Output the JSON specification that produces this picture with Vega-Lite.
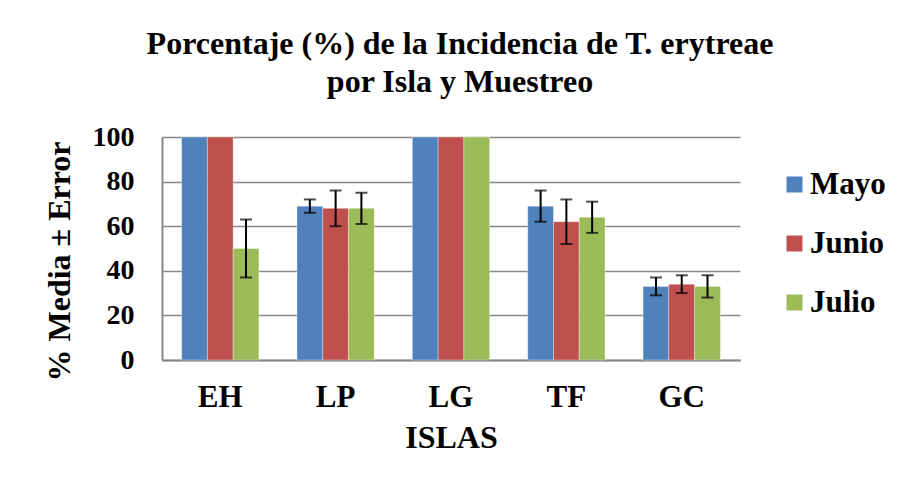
{
  "$schema": "https://vega.github.io/schema/vega-lite/v6.json",
  "width": 578,
  "height": 223,
  "autosize": "none",
  "padding": {"left": 162, "top": 137, "right": 161, "bottom": 130},
  "background": "white",
  "title": {
    "text": ["Porcentaje (%) de la Incidencia de T. erytreae", "por Isla y Muestreo"],
    "font": "Liberation Serif",
    "fontSize": 32,
    "fontWeight": "bold",
    "color": "black",
    "anchor": "middle",
    "dx": 9,
    "offset": 24,
    "lineHeight": 38
  },
  "data": {
    "values": [
      {"isla": "EH", "mes": "Mayo", "valor": 100, "lo": null, "hi": null},
      {"isla": "EH", "mes": "Junio", "valor": 100, "lo": null, "hi": null},
      {"isla": "EH", "mes": "Julio", "valor": 50, "lo": 37, "hi": 63},
      {"isla": "LP", "mes": "Mayo", "valor": 69, "lo": 66, "hi": 72},
      {"isla": "LP", "mes": "Junio", "valor": 68, "lo": 60, "hi": 76},
      {"isla": "LP", "mes": "Julio", "valor": 68, "lo": 61, "hi": 75},
      {"isla": "LG", "mes": "Mayo", "valor": 100, "lo": null, "hi": null},
      {"isla": "LG", "mes": "Junio", "valor": 100, "lo": null, "hi": null},
      {"isla": "LG", "mes": "Julio", "valor": 100, "lo": null, "hi": null},
      {"isla": "TF", "mes": "Mayo", "valor": 69, "lo": 62, "hi": 76},
      {"isla": "TF", "mes": "Junio", "valor": 62, "lo": 52, "hi": 72},
      {"isla": "TF", "mes": "Julio", "valor": 64, "lo": 57, "hi": 71},
      {"isla": "GC", "mes": "Mayo", "valor": 33, "lo": 29, "hi": 37},
      {"isla": "GC", "mes": "Junio", "valor": 34, "lo": 30, "hi": 38},
      {"isla": "GC", "mes": "Julio", "valor": 33, "lo": 28, "hi": 38}
    ]
  },
  "encoding": {
    "x": {
      "field": "isla",
      "type": "nominal",
      "sort": ["EH", "LP", "LG", "TF", "GC"],
      "scale": {"paddingInner": 0.33, "paddingOuter": 0.17},
      "axis": {
        "title": "ISLAS",
        "labelAngle": 0,
        "ticks": false,
        "domain": true,
        "domainColor": "#868686",
        "domainWidth": 2,
        "labelFont": "Liberation Serif",
        "labelFontSize": 31,
        "labelFontWeight": "bold",
        "labelColor": "black",
        "labelPadding": 22,
        "titleFont": "Liberation Serif",
        "titleFontSize": 32,
        "titleFontWeight": "bold",
        "titleColor": "black",
        "titlePadding": 10
      }
    },
    "xOffset": {
      "field": "mes",
      "type": "nominal",
      "sort": ["Mayo", "Junio", "Julio"],
      "scale": {"paddingInner": 0, "paddingOuter": 0}
    }
  },
  "layer": [
    {
      "mark": {"type": "bar", "stroke": "#ffffff", "strokeOpacity": 0.35, "strokeWidth": 1},
      "encoding": {
        "y": {
          "field": "valor",
          "type": "quantitative",
          "scale": {"domain": [0, 100], "nice": false},
          "axis": {
            "title": "% Media ± Error",
            "values": [0, 20, 40, 60, 80, 100],
            "ticks": false,
            "grid": true,
            "gridColor": "#898989",
            "gridWidth": 1.5,
            "domain": true,
            "domainColor": "#868686",
            "domainWidth": 2,
            "labelFont": "Liberation Serif",
            "labelFontSize": 28,
            "labelFontWeight": "bold",
            "labelColor": "black",
            "labelPadding": 28,
            "titleFont": "Liberation Serif",
            "titleFontSize": 32,
            "titleFontWeight": "bold",
            "titleColor": "black",
            "titlePadding": 16,
            "titleY": 124
          }
        },
        "color": {
          "field": "mes",
          "type": "nominal",
          "sort": ["Mayo", "Junio", "Julio"],
          "scale": {"domain": ["Mayo", "Junio", "Julio"], "range": ["#4F81BD", "#C0504D", "#9BBB59"]},
          "legend": {
            "title": null,
            "orient": "none",
            "legendX": 617,
            "legendY": 32,
            "symbolType": "square",
            "symbolSize": 256,
            "symbolStrokeWidth": 0,
            "labelFont": "Liberation Serif",
            "labelFontSize": 31,
            "labelFontWeight": "bold",
            "labelColor": "black",
            "labelOffset": 0,
            "rowPadding": 27,
            "padding": 0
          }
        }
      }
    },
    {
      "transform": [{"filter": "datum.lo != null"}],
      "mark": {"type": "rule", "color": "black", "strokeWidth": 2},
      "encoding": {
        "y": {"field": "lo", "type": "quantitative"},
        "y2": {"field": "hi"}
      }
    },
    {
      "transform": [{"filter": "datum.lo != null"}],
      "mark": {"type": "tick", "orient": "horizontal", "color": "black", "size": 12, "thickness": 2},
      "encoding": {
        "y": {"field": "lo", "type": "quantitative"}
      }
    },
    {
      "transform": [{"filter": "datum.hi != null"}],
      "mark": {"type": "tick", "orient": "horizontal", "color": "black", "size": 12, "thickness": 2},
      "encoding": {
        "y": {"field": "hi", "type": "quantitative"}
      }
    }
  ],
  "config": {
    "view": {"stroke": null}
  }
}
